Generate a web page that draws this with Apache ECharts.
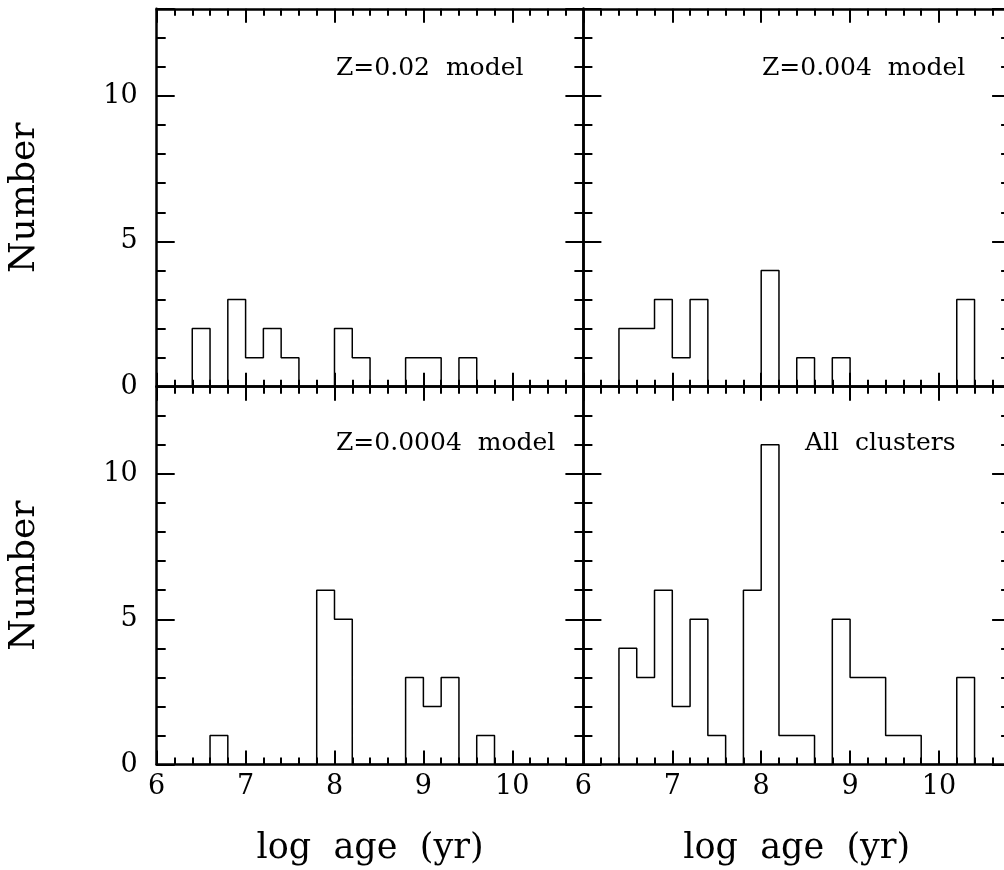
<!DOCTYPE html>
<html><head><meta charset="utf-8">
<script src="https://cdn.jsdelivr.net/npm/echarts@6/dist/echarts.min.js"></script>
<style>html,body{margin:0;padding:0;background:#fff}#c{width:1004px;height:870px}</style>
</head><body><div id="c"></div>
<script>
// ---- data ----
const binEdges = [6.4, 6.6, 6.8, 7.0, 7.2, 7.4, 7.6, 7.8, 8.0, 8.2, 8.4, 8.6, 8.8, 9.0, 9.2, 9.4, 9.6, 9.8, 10.0, 10.2, 10.4];
const countsZ002   = [2, 0, 3, 1, 2, 1, 0, 0, 2, 1, 0, 0, 1, 1, 0, 1, 0, 0, 0, 0];
const countsZ0004  = [2, 2, 3, 1, 3, 0, 0, 0, 4, 0, 1, 0, 1, 0, 0, 0, 0, 0, 0, 3];
const countsZ00004 = [0, 1, 0, 0, 0, 0, 0, 6, 5, 0, 0, 0, 3, 2, 3, 0, 1, 0, 0, 0];
const countsAll    = [4, 3, 6, 2, 5, 1, 0, 6, 11, 1, 1, 0, 5, 3, 3, 1, 1, 0, 0, 3];
const panelTitles  = ['Z=0.02  model', 'Z=0.004  model', 'Z=0.0004  model', 'All  clusters'];
const xTicks = [6, 7, 8, 9, 10];
const yTicks = [0, 5, 10];
const xTitle = 'log  age  (yr)';
const yTitle = 'Number';

// ---- layout ----
const FONT = 'DejaVu Serif';
const W = 426.7, H = 377.9;
const gridPos = [
  {left: 156.7, top: 8.8}, {left: 583.4, top: 8.8},
  {left: 156.7, top: 386.7}, {left: 583.4, top: 386.7}
];
const titlePos = [
  {left: 336, top: 56}, {left: 762, top: 56},
  {left: 336, top: 431}, {left: 805, top: 431}
];
const allCounts = [countsZ002, countsZ0004, countsZ00004, countsAll];

function stepData(counts) {
  const d = [[binEdges[0], 0]];
  counts.forEach((c, i) => d.push([binEdges[i], c]));
  d.push([binEdges[binEdges.length - 1], 0]);
  return d;
}

const lineSt = {color: '#000', width: 2.5};
const tickSt = {color: '#000', width: 2};

const grids = [], xAxes = [], yAxes = [], series = [];
gridPos.forEach((g, i) => {
  grids.push({left: g.left, top: g.top, width: W, height: H, containLabel: false, outerBoundsMode: 'none'});
  const bottomRow = i >= 2, leftCol = i % 2 === 0;
  ['bottom', 'top'].forEach(pos => {
    const showLab = bottomRow && pos === 'bottom';
    xAxes.push({
      type: 'value', gridIndex: i, position: pos, min: 6, max: 10.8, interval: 1,
      axisLine: {show: true, onZero: false, lineStyle: lineSt},
      axisTick: {show: true, inside: true, length: 14, lineStyle: tickSt},
      minorTick: {show: true, splitNumber: 5, length: 7, lineStyle: tickSt},
      splitLine: {show: false}, minorSplitLine: {show: false},
      axisLabel: {show: showLab, showMaxLabel: false, margin: 9, color: '#000', fontFamily: FONT, fontSize: 27,
        formatter: v => xTicks.indexOf(v) >= 0 ? String(v) : ''},
      name: showLab ? xTitle : '', nameLocation: 'middle', nameGap: 67,
      nameTextStyle: {color: '#000', fontFamily: FONT, fontSize: 35}
    });
  });
  ['left', 'right'].forEach(pos => {
    const showLab = leftCol && pos === 'left';
    yAxes.push({
      type: 'value', gridIndex: i, position: pos, min: 0, max: 13, interval: 5,
      axisLine: {show: true, onZero: false, lineStyle: lineSt},
      axisTick: {show: true, inside: true, length: 18, lineStyle: tickSt},
      minorTick: {show: true, splitNumber: 5, length: 9, lineStyle: tickSt},
      splitLine: {show: false}, minorSplitLine: {show: false},
      axisLabel: {show: showLab, showMaxLabel: false, margin: 19, color: '#000', fontFamily: FONT, fontSize: 27,
        formatter: v => yTicks.indexOf(v) >= 0 ? String(v) : ''},
      name: showLab ? yTitle : '', nameLocation: 'middle', nameGap: 114,
      nameTextStyle: {color: '#000', fontFamily: FONT, fontSize: 36}
    });
  });
  series.push({
    type: 'line', xAxisIndex: 2 * i, yAxisIndex: 2 * i, step: 'end',
    data: stepData(allCounts[i]), symbol: 'none', showSymbol: false,
    lineStyle: {color: '#000', width: 1.5}, clip: false, z: 1
  });
});

const titles = panelTitles.map((t, i) => ({
  text: t, left: titlePos[i].left, top: titlePos[i].top, padding: 0,
  textStyle: {color: '#000', fontFamily: FONT, fontSize: 25, fontWeight: 'normal'}
}));

const chart = echarts.init(document.getElementById('c'), null, {renderer: 'canvas'});
chart.setOption({
  animation: false, backgroundColor: '#fff',
  title: titles, grid: grids, xAxis: xAxes, yAxis: yAxes, series: series
});
</script></body></html>
